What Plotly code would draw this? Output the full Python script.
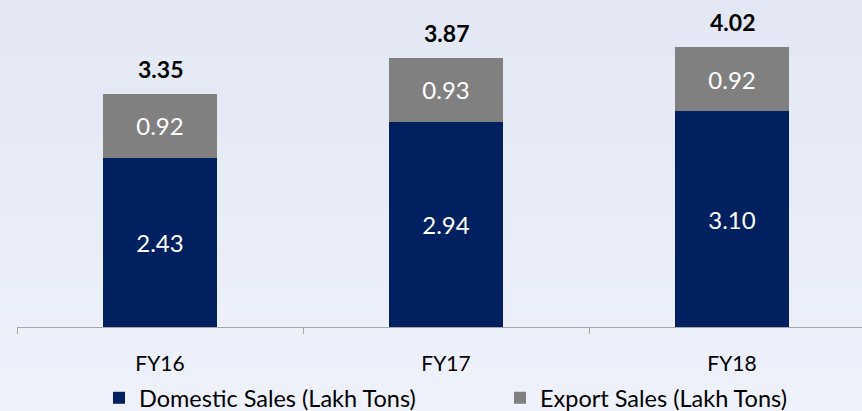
import plotly.graph_objects as go

categories = ["FY16", "FY17", "FY18"]
domestic = [2.43, 2.94, 3.10]
export = [0.92, 0.93, 0.92]
totals = [3.35, 3.87, 4.02]

FONT = "Lato"
fig = go.Figure()
fig.add_trace(go.Bar(
    x=categories, y=domestic, name="Domestic Sales (Lakh Tons)",
    marker=dict(color="#002060", line=dict(width=0)),
    text=[f"{v:.2f}" for v in domestic], textposition="inside",
    insidetextanchor="middle", textangle=0,
    textfont=dict(color="white", size=24, family=FONT), width=0.4,
))
fig.add_trace(go.Bar(
    x=categories, y=export, name="Export Sales (Lakh Tons)",
    marker=dict(color="#808080", line=dict(width=0)),
    text=[f"{v:.2f}" for v in export], textposition="inside",
    insidetextanchor="middle", textangle=0,
    textfont=dict(color="white", size=24, family=FONT), width=0.4,
))

for c, t in zip(categories, totals):
    fig.add_annotation(x=c, y=t, text=f"<b>{t:.2f}</b>", showarrow=False,
                       yshift=25, font=dict(size=23, color="black", family=FONT))

# subtle vertical background gradient
top = (226, 231, 243)
bot = (239, 242, 251)
n = 30
for i in range(n):
    f = i / (n - 1)
    col = tuple(round(top[k] + (bot[k] - top[k]) * f) for k in range(3))
    fig.add_shape(type="rect", xref="paper", yref="paper",
                  x0=-0.1, x1=1.1,
                  y0=1.02 - (i + 1) * 1.32 / n, y1=1.02 - i * 1.32 / n,
                  fillcolor=f"rgb{col}", line=dict(width=0), layer="below")

fig.update_layout(
    width=862, height=411,
    margin=dict(l=17, r=0, t=5, b=84, autoexpand=False),
    barmode="stack",
    paper_bgcolor="rgb(233,237,247)",
    plot_bgcolor="rgba(0,0,0,0)",
    font=dict(family=FONT, color="black"),
    showlegend=True,
    legend=dict(orientation="h", x=99 / 862, xanchor="left", xref="container",
                y=(327 - 398) / 322, yanchor="middle",
                traceorder="normal",
                font=dict(size=23.5, family=FONT, color="black"),
                entrywidth=356, bgcolor="rgba(0,0,0,0)"),
    xaxis=dict(range=[-0.5, 2.4545], showline=True, linecolor="#a6a6a6",
               linewidth=1, ticks="outside", tickson="boundaries", ticklen=6,
               tickcolor="#a6a6a6", showgrid=False, zeroline=False,
               tickfont=dict(size=21, family=FONT, color="black"),
               ticklabelstandoff=18),
    yaxis=dict(range=[0, 4.626], visible=False, showgrid=False, zeroline=False),
)

fig.write_html("out.html", config={"displayModeBar": False},
               post_script="document.body.style.margin='0';document.body.style.overflow='hidden';")
